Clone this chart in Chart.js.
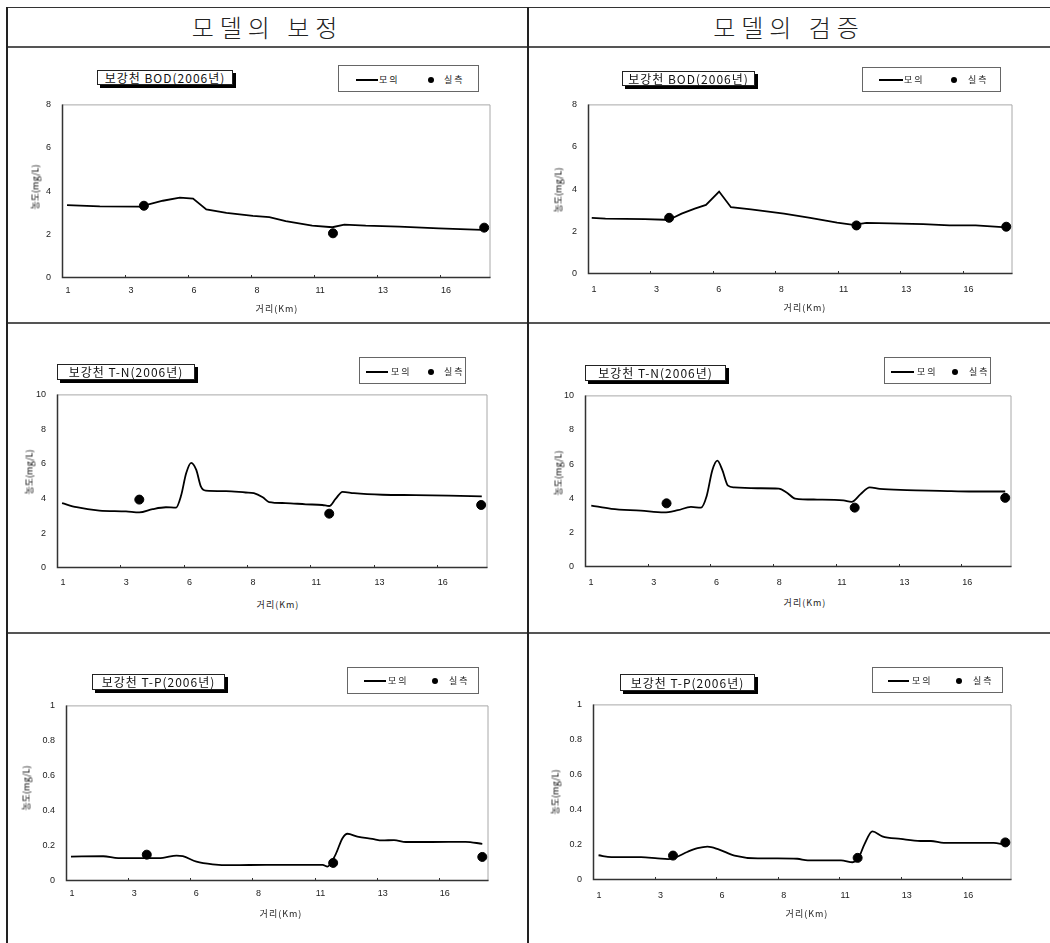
<!DOCTYPE html>
<html><head><meta charset="utf-8">
<script src="https://cdn.jsdelivr.net/npm/chart.js@4.4.0/dist/chart.umd.min.js"></script>
<style>
body{margin:0;background:#fff;width:1050px;height:943px;position:relative;overflow:hidden;font-family:"Noto Sans CJK KR",sans-serif;color:#111;}
.hl{position:absolute;left:7px;right:0;height:2px;background:#555;}
.vl{position:absolute;top:7px;bottom:0;width:2px;background:#222;}
.hdr{position:absolute;top:8px;height:38px;line-height:38px;font-size:24px;letter-spacing:6px;text-align:center;font-weight:300;color:#222;}
.title{position:absolute;background:#fff;border:1px solid #222;box-shadow:3px 3px 0 #000;font-size:12px;text-align:center;white-space:nowrap;letter-spacing:1px;box-sizing:border-box;}
.legend{position:absolute;background:#fff;border:1px solid #666;box-sizing:border-box;}
.lg-line{position:absolute;height:2px;background:#000;}
.lg-dot{position:absolute;width:6px;height:6px;border-radius:50%;background:#000;}
.lg-txt{position:absolute;font-size:9px;letter-spacing:2px;line-height:10px;white-space:nowrap;color:#222;}
.ytitle{position:absolute;font-size:9px;transform:translate(-50%,-50%) rotate(-90deg);white-space:nowrap;color:#000;}
.xtitle{position:absolute;font-size:9px;transform:translate(-50%,-50%);white-space:nowrap;letter-spacing:1px;color:#222;}
canvas{position:absolute;}
</style>
</head>
<body>
<div class="hl" style="top:7px;height:1px;background:#333"></div>
<div class="hl" style="top:46px"></div>
<div class="hl" style="top:322px"></div>
<div class="hl" style="top:632px"></div>
<div class="vl" style="left:6px"></div>
<div class="vl" style="left:527px"></div>
<div class="hdr" style="left:7px;width:521px">모델의 보정</div>
<div class="hdr" style="left:528px;width:522px">모델의 검증</div>
<div id="root"></div>
<script>
// ---- axis ----
const xTickLabels = ['1','3','6','8','11','13','16'];
const xTickPos = [0,10,20,30,40,50,60];
const xMax = 68;
const obsX = [13, 43, 67];

// ---- BOD calibration ----
const bodCalSimX = [0.8, 6, 12.4, 16, 18.7, 20.8, 22.9, 26.1, 30.3, 32.9, 35.5, 39.7, 42.9, 44.8, 48.2, 53.5, 59.8, 66.6];
const bodCalSimY = [3.36, 3.30, 3.29, 3.56, 3.70, 3.66, 3.16, 3.00, 2.86, 2.81, 2.62, 2.41, 2.34, 2.46, 2.41, 2.37, 2.29, 2.22];
const bodCalObsY = [3.33, 2.06, 2.32];

// ---- BOD validation ----
const bodValSimX = [0.6, 2.8, 9.1, 12.3, 13.4, 15.0, 17.1, 18.9, 21.0, 22.9, 26.1, 31.4, 35.6, 39.9, 42.5, 44.6, 48.4, 53.7, 57.9, 62.1, 66.4];
const bodValSimY = [2.65, 2.61, 2.59, 2.56, 2.62, 2.85, 3.08, 3.26, 3.89, 3.15, 3.05, 2.85, 2.65, 2.42, 2.32, 2.41, 2.39, 2.35, 2.29, 2.29, 2.21];
const bodValObsY = [2.65, 2.29, 2.23];

// ---- T-N calibration ----
const tnCalSimX = [0.8, 3.1, 6.7, 10.9, 13.0, 15.1, 17.2, 18.8, 19.6, 20.4, 21.2, 22.0, 22.7, 23.5, 26.7, 29.8, 31.1, 32.5, 33.5, 36.1, 39.3, 41.9, 43.0, 44.0, 45.1, 46.9, 51.4, 56.6, 61.9, 67.1];
const tnCalSimY = [3.74, 3.50, 3.31, 3.26, 3.20, 3.39, 3.50, 3.48, 4.17, 5.46, 6.06, 5.65, 4.72, 4.46, 4.43, 4.35, 4.31, 4.07, 3.80, 3.74, 3.67, 3.63, 3.57, 3.98, 4.39, 4.31, 4.22, 4.20, 4.17, 4.13];
const tnCalObsY = [3.94, 3.13, 3.63];

// ---- T-N validation ----
const tnValSimX = [1.0, 4.2, 8.9, 12.6, 14.8, 16.9, 18.5, 19.4, 20.3, 21.1, 21.9, 22.8, 23.8, 27.5, 30.9, 32.2, 33.5, 37.0, 41.2, 42.5, 43.9, 45.4, 47.0, 51.3, 56.6, 61.9, 67.0];
const tnValSimY = [3.58, 3.39, 3.28, 3.18, 3.31, 3.50, 3.46, 4.14, 5.64, 6.20, 5.64, 4.74, 4.64, 4.59, 4.57, 4.33, 3.99, 3.93, 3.88, 3.80, 4.23, 4.64, 4.55, 4.48, 4.44, 4.40, 4.40];
const tnValObsY = [3.71, 3.46, 4.03];

// ---- T-P calibration ----
const tpCalSimX = [0.8, 6.0, 8.4, 13.5, 15.6, 17.8, 18.8, 21.0, 23.6, 26.8, 32.2, 37.5, 41.3, 42.1, 43.4, 44.5, 45.3, 46.9, 49.3, 50.9, 52.8, 54.7, 58.9, 64.3, 67.0];
const tpCalSimY = [0.139, 0.141, 0.130, 0.130, 0.132, 0.145, 0.141, 0.110, 0.095, 0.090, 0.092, 0.092, 0.092, 0.082, 0.152, 0.244, 0.269, 0.253, 0.240, 0.231, 0.233, 0.222, 0.222, 0.223, 0.212];
const tpCalObsY = [0.150, 0.103, 0.137];

// ---- T-P validation ----
const tpValSimX = [0.9, 3.0, 7.8, 10.5, 12.2, 13.2, 15.4, 17.0, 18.6, 20.3, 23.0, 26.8, 30.0, 33.2, 34.9, 40.3, 42.2, 43.0, 44.1, 45.4, 47.0, 50.0, 53.2, 54.9, 57.0, 61.9, 65.1, 66.8];
const tpValSimY = [0.141, 0.130, 0.130, 0.123, 0.119, 0.126, 0.161, 0.181, 0.190, 0.176, 0.139, 0.123, 0.123, 0.121, 0.112, 0.112, 0.101, 0.115, 0.203, 0.277, 0.249, 0.234, 0.222, 0.222, 0.211, 0.211, 0.211, 0.203];
const tpValObsY = [0.139, 0.126, 0.214];

const titles = ['보강천 BOD(2006년)','보강천 T-N(2006년)','보강천 T-P(2006년)'];
const simLabel = '모의', obsLabel = '실측';
const yTitle = '농도(mg/L)', xTitle = '거리(Km)';

const charts = [
 {simX:bodCalSimX, simY:bodCalSimY, obsY:bodCalObsY, ymax:8, step:2, smooth:false, title:titles[0],
  g:{L:62,R:492,T:98,B:278,xpad:7}, tb:{l:97,t:70,w:136,h:15},
  lg:{l:338,t:65,w:141,h:27,cy:15,l1:17,l2:39,t1:40,d:92,t2:105}, yt:{x:35,y:187}, xt:{x:277,y:308}},
 {simX:bodValSimX, simY:bodValSimY, obsY:bodValObsY, ymax:8, step:2, smooth:false, title:titles[0],
  g:{L:588,R:1014,T:98,B:274,xpad:10}, tb:{l:622,t:71,w:133,h:15},
  lg:{l:862,t:67,w:139,h:25,cy:13,l1:16,l2:40,t1:41,d:91,t2:105}, yt:{x:558,y:190}, xt:{x:805,y:307}},
 {simX:tnCalSimX, simY:tnCalSimY, obsY:tnCalObsY, ymax:10, step:2, smooth:true, title:titles[1],
  g:{L:57,R:489,T:388,B:568,xpad:9}, tb:{l:57,t:364,w:138,h:16},
  lg:{l:359,t:357,w:107,h:27,cy:15,l1:6,l2:28,t1:31,d:71,t2:84}, yt:{x:29,y:472}, xt:{x:278,y:604}},
 {simX:tnValSimX, simY:tnValSimY, obsY:tnValObsY, ymax:10, step:2, smooth:true, title:titles[1],
  g:{L:585,R:1013,T:389,B:567,xpad:10}, tb:{l:585,t:365,w:141,h:16},
  lg:{l:884,t:357,w:107,h:27,cy:15,l1:6,l2:29,t1:32,d:70,t2:84}, yt:{x:558,y:473}, xt:{x:805,y:602}},
 {simX:tpCalSimX, simY:tpCalSimY, obsY:tpCalObsY, ymax:1, step:0.2, smooth:true, title:titles[2],
  g:{L:66,R:490,T:699,B:881,xpad:7}, tb:{l:92,t:674,w:133,h:16},
  lg:{l:347,t:667,w:132,h:27,cy:14,l1:16,l2:38,t1:40,d:87,t2:101}, yt:{x:26,y:788}, xt:{x:281,y:913}},
 {simX:tpValSimX, simY:tpValSimY, obsY:tpValObsY, ymax:1, step:0.2, smooth:true, title:titles[2],
  g:{L:593,R:1013,T:698,B:880,xpad:10}, tb:{l:620,t:674,w:135,h:17},
  lg:{l:872,t:667,w:131,h:26,cy:14,l1:15,l2:36,t1:39,d:86,t2:100}, yt:{x:555,y:792}, xt:{x:807,y:913}}
];

const framePlugin = {
  id:'frame',
  beforeDatasetsDraw(chart){
    const {ctx, chartArea:a} = chart;
    const x = chart.scales.x;
    ctx.save();
    ctx.strokeStyle='#a8a8a8'; ctx.lineWidth=1;
    ctx.beginPath(); ctx.moveTo(a.left, a.top+0.5); ctx.lineTo(a.right-0.5, a.top+0.5); ctx.lineTo(a.right-0.5, a.bottom); ctx.stroke();
    ctx.strokeStyle='#333'; ctx.lineWidth=1.5;
    ctx.beginPath(); ctx.moveTo(a.left+0.5, a.top); ctx.lineTo(a.left+0.5, a.bottom-0.5); ctx.lineTo(a.right, a.bottom-0.5); ctx.stroke();
    ctx.lineWidth=1;
    xTickPos.slice(1).forEach(v=>{
      const px = Math.round(x.getPixelForValue(v))+0.5;
      ctx.beginPath(); ctx.moveTo(px, a.bottom); ctx.lineTo(px, a.bottom-3); ctx.stroke();
    });
    ctx.restore();
  }
};

const YW=50, PT=10, PR=4, XH=28;
const root = document.getElementById('root');
const tickFont = {family:'"Liberation Sans", Arial, sans-serif', size:9};

charts.forEach(c=>{
  const g=c.g;
  const cv=document.createElement('canvas');
  const w=(g.R-g.L)+YW+PR, h=(g.B-g.T)+PT+XH;
  cv.width=w; cv.height=h;
  cv.style.left=(g.L-YW)+'px'; cv.style.top=(g.T-PT)+'px';
  cv.style.width=w+'px'; cv.style.height=h+'px';
  root.appendChild(cv);

  new Chart(cv,{
    type:'scatter',
    data:{datasets:[
      {label:simLabel, data:c.simX.map((x,i)=>({x, y:c.simY[i]})), showLine:true, borderColor:'#000', borderWidth:1.8,
       pointRadius:0, tension: c.smooth?0.4:0, cubicInterpolationMode: c.smooth?'monotone':'default', fill:false},
      {label:obsLabel, data:obsX.map((x,i)=>({x, y:c.obsY[i]})), showLine:false, pointRadius:4.5,
       backgroundColor:'#000', borderColor:'#000', pointStyle:'circle'}
    ]},
    options:{
      responsive:false, animation:false, devicePixelRatio:1,
      layout:{padding:{top:PT,right:PR,left:0,bottom:0}},
      plugins:{legend:{display:false}, tooltip:{enabled:false}},
      scales:{
        x:{type:'linear', min:0, max:xMax,
           afterFit:s=>{s.height=XH;},
           afterBuildTicks:s=>{s.ticks=xTickPos.map(v=>({value:v}));},
           ticks:{callback:v=>{const i=xTickPos.indexOf(v); return i<0?'':xTickLabels[i];}, labelOffset:6, padding:g.xpad,
                  maxRotation:0, autoSkip:false, font:tickFont, color:'#222'},
           grid:{display:false, drawTicks:false}, border:{display:false}},
        y:{type:'linear', min:0, max:c.ymax,
           afterFit:s=>{s.width=YW;},
           ticks:{stepSize:c.step, padding:11, font:tickFont, color:'#222',
                  callback:v=>String(Math.round(v*10)/10)},
           grid:{display:false, drawTicks:false}, border:{display:false}}
      }
    },
    plugins:[framePlugin]
  });

  const tb=document.createElement('div');
  tb.className='title';
  Object.assign(tb.style,{left:c.tb.l+'px',top:c.tb.t+'px',width:c.tb.w+'px',height:c.tb.h+'px',lineHeight:(c.tb.h-2)+'px'});
  tb.textContent=c.title;
  root.appendChild(tb);

  const lg=document.createElement('div');
  lg.className='legend';
  Object.assign(lg.style,{left:c.lg.l+'px',top:c.lg.t+'px',width:c.lg.w+'px',height:c.lg.h+'px'});
  const L=c.lg;
  lg.innerHTML=
    `<div class="lg-line" style="left:${L.l1}px;width:${L.l2-L.l1}px;top:${L.cy-2}px"></div>`+
    `<div class="lg-txt" style="left:${L.t1}px;top:${L.cy-6}px">${simLabel}</div>`+
    `<div class="lg-dot" style="left:${L.d-3}px;top:${L.cy-4}px"></div>`+
    `<div class="lg-txt" style="left:${L.t2}px;top:${L.cy-6}px">${obsLabel}</div>`;
  root.appendChild(lg);

  const yt=document.createElement('div');
  yt.className='ytitle'; yt.style.left=c.yt.x+'px'; yt.style.top=c.yt.y+'px'; yt.textContent=yTitle;
  root.appendChild(yt);
  const xt=document.createElement('div');
  xt.className='xtitle'; xt.style.left=c.xt.x+'px'; xt.style.top=c.xt.y+'px'; xt.textContent=xTitle;
  root.appendChild(xt);
});
</script>
</body></html>
